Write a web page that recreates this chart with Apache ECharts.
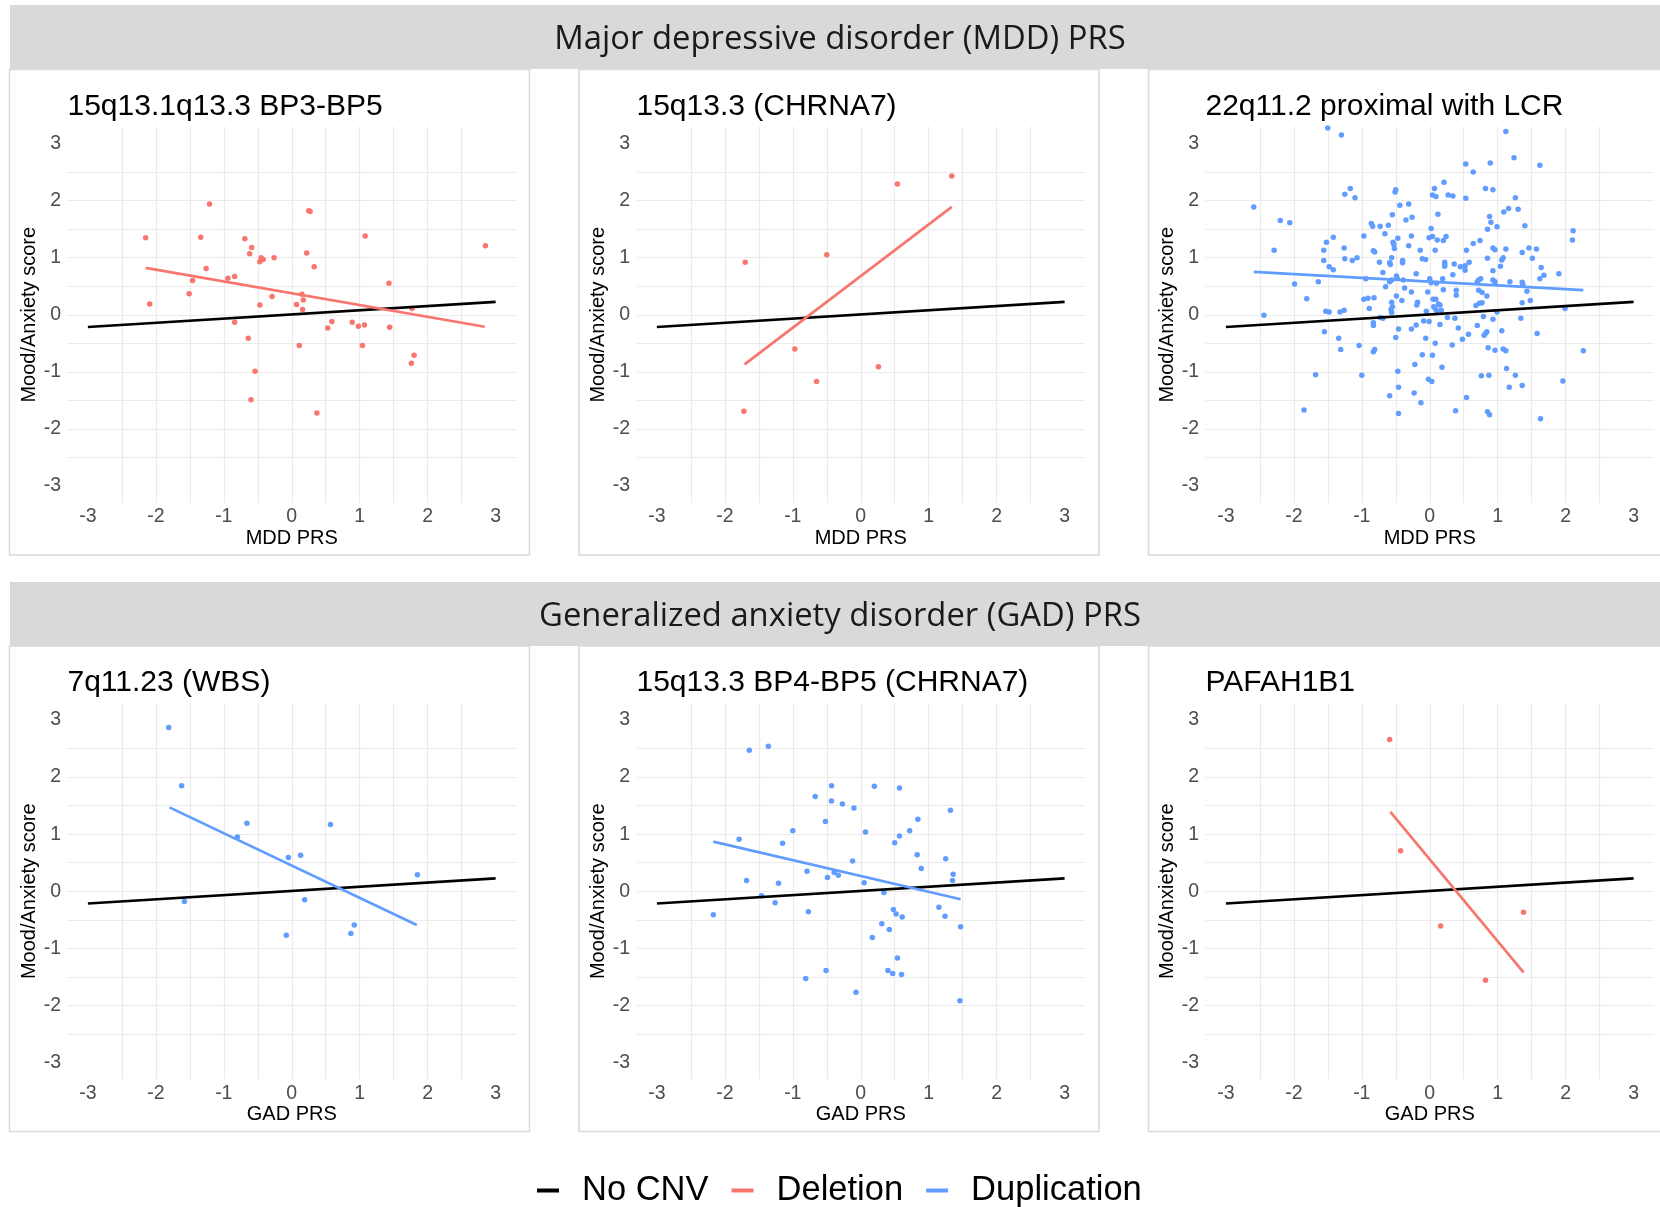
<!DOCTYPE html>
<html>
<head>
<meta charset="utf-8">
<script src="https://cdn.jsdelivr.net/npm/echarts@6/dist/echarts.min.js"></script>
<style>
html,body{margin:0;padding:0;background:#fff;}
#chart{width:1660px;height:1207px;}
</style>
</head>
<body>
<div id="chart"></div>
<script>
// ---------- data ----------
const rowLabels = ['Major depressive disorder (MDD) PRS', 'Generalized anxiety disorder (GAD) PRS'];
const xAxisNames = ['MDD PRS', 'GAD PRS'];
const yAxisName = 'Mood/Anxiety score';
const panelTitles = ['15q13.1q13.3 BP3-BP5', '15q13.3 (CHRNA7)', '22q11.2 proximal with LCR',
                     '7q11.23 (WBS)', '15q13.3 BP4-BP5 (CHRNA7)', 'PAFAH1B1'];
const panelTypes = ['Deletion', 'Deletion', 'Duplication', 'Duplication', 'Duplication', 'Deletion'];
const legendNames = ['No CNV', 'Deletion', 'Duplication'];
const labelTicks = [-3, -2, -1, 0, 1, 2, 3];
const gridTicks = [-3, -2.5, -2, -1.5, -1, -0.5, 0, 0.5, 1, 1.5, 2, 2.5, 3];

const noCnvFit = [[-3, -0.215], [3, 0.225]];

const p1Points = [[-2.15,1.35],[-2.09,0.19],[-1.21,1.94],[-1.34,1.36],[-1.26,0.81],[-1.46,0.60],[-1.51,0.37],[-0.94,0.64],[-0.84,0.67],[-0.84,-0.13],[-0.69,1.33],[-0.59,1.18],[-0.62,1.07],[-0.47,0.93],[-0.45,1.00],[-0.42,0.97],[-0.26,1.00],[-0.47,0.17],[-0.29,0.32],[-0.64,-0.41],[-0.54,-0.99],[-0.60,-1.49],[0.25,1.82],[0.27,1.81],[0.22,1.08],[0.33,0.84],[0.15,0.36],[0.17,0.26],[0.07,0.18],[0.16,0.09],[0.11,-0.54],[0.37,-1.72],[0.53,-0.23],[0.59,-0.12],[0.89,-0.13],[0.98,-0.20],[1.07,-0.18],[1.04,-0.54],[1.08,1.38],[1.43,0.55],[1.44,-0.22],[1.76,-0.85],[1.80,-0.71],[1.77,0.11],[2.85,1.21]];
const p1Fit = [[-2.15,0.82],[2.84,-0.21]];

const p2Points = [[-1.70,0.92],[-1.72,-1.69],[-0.50,1.05],[-0.97,-0.60],[-0.65,-1.17],[0.26,-0.91],[0.54,2.29],[1.34,2.43]];
const p2Fit = [[-1.71,-0.87],[1.34,1.89]];

const p3Points = [[-1.50,3.27],[-1.30,3.15],[1.12,3.21],[1.24,2.75],[0.89,2.66],[0.53,2.64],[0.64,2.50],[1.62,2.62],[0.21,2.32],[-1.17,2.21],[-0.50,2.19],[-0.51,2.15],[0.07,2.21],[0.82,2.21],[0.93,2.19],[-1.25,2.11],[-1.10,2.05],[0.04,2.10],[0.09,2.07],[0.27,2.10],[0.34,2.08],[0.53,2.04],[1.26,2.05],[-2.59,1.89],[-0.44,1.92],[-0.31,1.94],[1.16,1.86],[1.30,1.85],[1.09,1.80],[-0.55,1.75],[0.12,1.76],[-0.26,1.71],[0.88,1.72],[-2.20,1.65],[-2.06,1.61],[-0.35,1.66],[0.90,1.62],[-0.86,1.60],[-0.84,1.55],[-0.73,1.55],[-0.61,1.57],[0.99,1.54],[1.40,1.56],[0.02,1.51],[0.85,1.50],[-0.66,1.42],[-0.97,1.38],[-1.42,1.36],[-0.27,1.38],[-0.01,1.35],[0.04,1.37],[0.24,1.37],[-0.47,1.34],[0.11,1.31],[0.20,1.30],[0.74,1.30],[2.11,1.47],[2.10,1.31],[-1.52,1.27],[-0.54,1.27],[-0.53,1.23],[0.64,1.25],[-0.31,1.21],[-1.26,1.17],[-0.52,1.16],[1.46,1.17],[1.57,1.15],[0.93,1.17],[0.96,1.14],[1.12,1.15],[-2.29,1.13],[-1.56,1.13],[-0.83,1.12],[-0.81,1.10],[-0.14,1.13],[0.08,1.13],[0.54,1.13],[1.36,1.09],[-1.56,0.95],[-1.25,0.98],[-1.14,0.95],[-1.07,1.00],[-0.56,1.00],[-0.40,0.95],[-0.40,0.91],[-0.74,0.92],[-0.59,0.91],[-0.58,0.88],[-0.11,0.98],[-0.06,0.97],[0.22,0.92],[0.22,0.88],[0.22,0.85],[0.36,0.89],[0.45,0.84],[0.52,0.86],[0.52,0.78],[0.58,0.92],[0.85,0.99],[1.06,0.96],[1.08,1.00],[1.51,0.99],[1.04,0.85],[0.93,0.77],[1.64,0.83],[1.68,0.69],[1.62,0.63],[1.90,0.72],[-1.48,0.84],[-1.42,0.79],[-0.69,0.74],[-0.20,0.72],[0.34,0.70],[-0.49,0.68],[-0.48,0.64],[-0.94,0.63],[-1.64,0.58],[-1.99,0.54],[-0.59,0.58],[-0.56,0.61],[-0.39,0.61],[0.00,0.63],[0.19,0.63],[0.02,0.56],[0.10,0.55],[0.72,0.61],[0.75,0.63],[0.93,0.61],[0.96,0.58],[1.18,0.58],[1.36,0.57],[1.37,0.53],[0.70,0.58],[-0.65,0.49],[-0.37,0.47],[0.20,0.44],[0.39,0.43],[0.72,0.43],[0.77,0.39],[0.84,0.33],[1.43,0.41],[-0.27,0.40],[-0.03,0.40],[-1.81,0.28],[-0.97,0.27],[-0.91,0.29],[-0.82,0.30],[-0.49,0.33],[-0.41,0.25],[0.05,0.27],[0.09,0.27],[0.39,0.34],[0.77,0.21],[0.73,0.20],[1.36,0.21],[1.48,0.25],[-0.56,0.22],[-0.55,0.14],[-0.18,0.22],[-0.19,0.17],[0.13,0.19],[0.15,0.17],[0.06,0.14],[0.68,0.16],[-0.89,0.11],[-1.53,0.06],[-1.48,0.05],[-1.32,0.05],[-1.26,0.08],[-0.57,0.09],[-0.56,0.04],[0.08,0.11],[-0.05,0.06],[0.10,0.07],[0.17,0.08],[0.99,0.05],[1.99,0.11],[-2.44,-0.01],[-0.69,-0.06],[-0.73,-0.05],[0.26,-0.05],[0.37,-0.06],[0.79,-0.03],[0.93,-0.08],[1.34,-0.06],[-0.01,-0.12],[-0.09,-0.11],[-0.83,-0.14],[-0.83,-0.19],[-0.20,-0.18],[0.15,-0.17],[0.70,-0.19],[-0.46,-0.25],[-0.27,-0.25],[0.42,-0.23],[1.06,-0.28],[-1.55,-0.30],[0.84,-0.30],[0.82,-0.33],[0.80,-0.36],[0.57,-0.34],[1.58,-0.33],[-0.50,-0.40],[-1.34,-0.41],[-0.06,-0.41],[0.48,-0.43],[0.08,-0.50],[0.33,-0.53],[-1.04,-0.54],[-1.31,-0.61],[-0.81,-0.61],[-0.83,-0.65],[0.86,-0.58],[0.96,-0.62],[1.08,-0.60],[1.12,-0.63],[2.26,-0.63],[-0.11,-0.70],[0.04,-0.71],[-0.22,-0.87],[0.18,-0.92],[1.13,-0.94],[-1.68,-1.05],[-1.00,-1.06],[-0.47,-0.99],[0.76,-1.07],[0.87,-1.06],[1.26,-1.06],[-0.02,-1.13],[0.03,-1.17],[1.96,-1.16],[1.17,-1.27],[1.36,-1.24],[-0.46,-1.27],[-0.23,-1.37],[-0.59,-1.42],[0.54,-1.45],[-0.13,-1.54],[-1.85,-1.67],[0.38,-1.68],[-0.46,-1.73],[0.85,-1.70],[0.88,-1.75],[1.63,-1.82]];
const p3Fit = [[-2.59,0.75],[2.26,0.43]];

const p4Points = [[-1.81,2.87],[-1.62,1.85],[-0.66,1.19],[-0.80,0.95],[-1.58,-0.18],[-0.05,0.59],[0.13,0.63],[0.57,1.17],[0.19,-0.15],[-0.08,-0.77],[0.87,-0.74],[0.92,-0.59],[1.85,0.29]];
const p4Fit = [[-1.80,1.47],[1.84,-0.59]];

const p5Points = [[-1.64,2.47],[-1.36,2.54],[-0.43,1.85],[0.20,1.84],[0.57,1.81],[-0.67,1.66],[-0.43,1.58],[-0.27,1.53],[-0.10,1.46],[1.32,1.42],[-0.52,1.22],[0.84,1.26],[-1.00,1.06],[0.07,1.04],[0.72,1.06],[0.57,0.97],[-1.79,0.91],[-1.15,0.84],[0.50,0.85],[0.83,0.64],[-0.12,0.53],[1.25,0.57],[0.89,0.40],[-0.79,0.35],[-0.39,0.33],[-0.33,0.28],[-0.49,0.24],[1.36,0.30],[1.35,0.19],[-1.68,0.19],[-1.21,0.14],[0.05,0.15],[-1.46,-0.08],[0.34,-0.02],[-1.26,-0.20],[-2.17,-0.41],[-0.77,-0.36],[0.48,-0.32],[0.52,-0.40],[0.61,-0.45],[1.15,-0.28],[1.24,-0.44],[1.47,-0.62],[0.31,-0.57],[0.42,-0.67],[0.17,-0.81],[0.54,-1.17],[-0.51,-1.39],[0.40,-1.39],[0.47,-1.44],[0.60,-1.46],[-0.81,-1.53],[-0.07,-1.77],[1.46,-1.92]];
const p5Fit = [[-2.17,0.87],[1.47,-0.14]];

const p6Points = [[-0.59,2.66],[-0.43,0.71],[0.16,-0.61],[1.38,-0.37],[0.82,-1.56]];
const p6Fit = [[-0.58,1.39],[1.38,-1.42]];

const panelPoints = [p1Points, p2Points, p3Points, p4Points, p5Points, p6Points];
const panelFits = [p1Fit, p2Fit, p3Fit, p4Fit, p5Fit, p6Fit];

// ---------- layout / style ----------
const FONT = '"Liberation Sans", Arial, Helvetica, sans-serif';
const STRIP_FONT = '"Open Sans", "DejaVu Sans", sans-serif';
const colors = { 'No CNV': '#000000', 'Deletion': '#F8766D', 'Duplication': '#619CFF' };
const colLeft = [67.5, 636.5, 1205.5];
const rowTop = [126.4, 702.9];
const gridW = 448.5, gridH = 376.7;
const boxLeft = [9.5, 579, 1148.5];
const boxTop = [69.5, 646];
const boxW = 520, boxH = 485.5;
const stripTop = [5, 582];
const stripH = 64;
const titleY = [107, 683];

const grids = [], xAxes = [], yAxes = [], series = [], graphics = [];

// strips and boxes
for (let r = 0; r < 2; r++) {
  graphics.push({ type: 'rect', z: -10, shape: { x: 10, y: stripTop[r], width: 1660, height: stripH }, style: { fill: '#D9D9D9' }, silent: true });
  graphics.push({ type: 'text', z: 10, x: 840, y: stripTop[r] + stripH / 2 + 3,
    style: { text: rowLabels[r], font: 'normal 32.8px ' + STRIP_FONT, fill: '#1A1A1A', textAlign: 'center', align: 'center', textVerticalAlign: 'middle', verticalAlign: 'middle' }, silent: true });
  for (let c = 0; c < 3; c++) {
    graphics.push({ type: 'rect', z: -10, shape: { x: boxLeft[c], y: boxTop[r], width: boxW, height: boxH }, style: { fill: 'none', stroke: '#D9D9D9', lineWidth: 1.5 }, silent: true });
  }
}

for (let i = 0; i < 6; i++) {
  const r = Math.floor(i / 3), c = i % 3;
  grids.push({ left: colLeft[c], top: rowTop[r], width: gridW, height: gridH, containLabel: false });
  graphics.push({ type: 'text', z: 10, x: colLeft[c], y: titleY[r],
    style: { text: panelTitles[i], font: 'normal 30px ' + FONT, fill: '#000', textAlign: 'left', align: 'left', textVerticalAlign: 'middle', verticalAlign: 'middle' }, silent: true });
  const common = {
    gridIndex: i, type: 'value', min: -3.3, max: 3.3, splitNumber: 12,
    axisLine: { show: false },
    axisTick: { show: false, customValues: gridTicks },
    splitLine: { show: true, showMinLine: false, showMaxLine: false, lineStyle: { color: '#EBEBEB', width: 1.2 } },
    minorSplitLine: { show: false },
    nameLocation: 'middle'
  };
  xAxes.push(Object.assign({}, common, {
    axisLabel: { customValues: labelTicks, fontSize: 19.5, color: '#4D4D4D', fontFamily: FONT, margin: 4,
      formatter: v => (Math.abs(v - Math.round(v)) < 1e-6 ? String(Math.round(v)) : '') },
    name: xAxisNames[r], nameGap: 23,
    nameTextStyle: { fontSize: 20, color: '#000', fontFamily: FONT }
  }));
  yAxes.push(Object.assign({}, common, {
    axisLabel: { customValues: labelTicks, fontSize: 19.5, color: '#4D4D4D', fontFamily: FONT, margin: 6.5,
      formatter: v => (Math.abs(v - Math.round(v)) < 1e-6 ? String(Math.round(v)) : '') },
    name: yAxisName, nameRotate: 90, nameGap: 24,
    nameTextStyle: { fontSize: 20, color: '#000', fontFamily: FONT }
  }));
  const t = panelTypes[i];
  series.push({
    name: t + ' points', type: 'scatter', xAxisIndex: i, yAxisIndex: i, data: panelPoints[i],
    symbol: 'circle', symbolSize: 5.5, itemStyle: { color: colors[t], opacity: 1 }, z: 2, silent: true
  });
  series.push({
    name: 'No CNV', type: 'line', xAxisIndex: i, yAxisIndex: i, data: noCnvFit,
    showSymbol: false, symbol: 'none', lineStyle: { color: colors['No CNV'], width: 2.7 },
    itemStyle: { color: colors['No CNV'] }, z: 3, silent: true
  });
  series.push({
    name: t, type: 'line', xAxisIndex: i, yAxisIndex: i, data: panelFits[i],
    showSymbol: false, symbol: 'none', lineStyle: { color: colors[t], width: 2.7 },
    itemStyle: { color: colors[t] }, z: 4, silent: true
  });
}

const chart = echarts.init(document.getElementById('chart'), null, { renderer: 'canvas', width: 1660, height: 1207 });
chart.setOption({
  backgroundColor: '#ffffff',
  animation: false,
  grid: grids,
  xAxis: xAxes,
  yAxis: yAxes,
  series: series,
  graphic: { elements: graphics },
  legend: {
    data: legendNames.map(n => ({ name: n, icon: 'rect' })),
    left: 537, top: 1173, padding: 0,
    itemWidth: 22, itemHeight: 4, itemGap: 23,
    textStyle: { fontSize: 34.5, color: '#000', fontFamily: FONT, padding: [0, 0, 0, 18] },
    selectedMode: false
  }
});
</script>
</body>
</html>
